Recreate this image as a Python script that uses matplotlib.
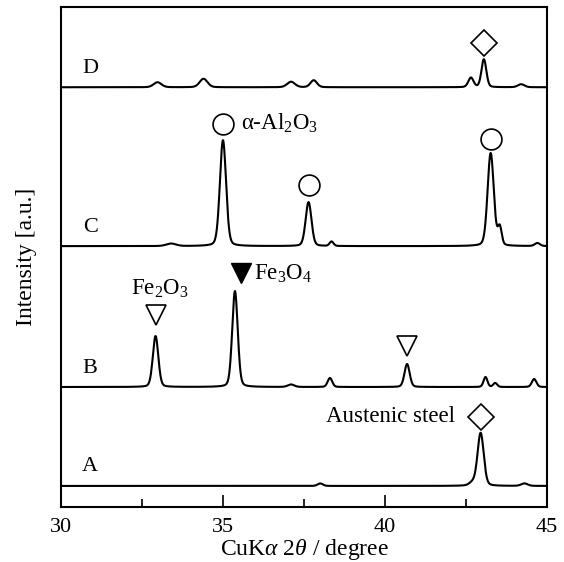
import matplotlib.pyplot as plt
import numpy as np

plt.rcParams['font.family'] = ['Liberation Serif', 'DejaVu Serif']
plt.rcParams['mathtext.fontset'] = 'custom'
plt.rcParams['mathtext.rm'] = 'Liberation Serif'
plt.rcParams['mathtext.it'] = 'Liberation Serif:italic'

# trace names and vertical offsets (arbitrary intensity units)
names = ['A', 'B', 'C', 'D']
offsets = [4.2, 24.0, 52.2, 84.0]

# peaks: position (deg), height, width (sigma, deg)
pos_A = [38.0, 42.7, 42.95, 44.3]
amp_A = [0.5, 0.6, 10.6, 0.5]
wid_A = [0.08, 0.10, 0.095, 0.10]

pos_B = [32.92, 35.37, 37.1, 38.3, 40.68, 43.1, 43.4, 44.6]
amp_B = [10.2, 19.2, 0.5, 1.8, 4.6, 2.0, 0.8, 1.6]
wid_B = [0.085, 0.085, 0.10, 0.07, 0.08, 0.06, 0.06, 0.07]

pos_C = [33.4, 35.0, 37.64, 38.35, 43.26, 43.54, 44.7]
amp_C = [0.5, 21.2, 8.8, 0.9, 18.6, 3.6, 0.6]
wid_C = [0.15, 0.095, 0.09, 0.06, 0.095, 0.06, 0.08]

pos_D = [32.98, 34.4, 37.1, 37.8, 42.65, 43.05, 44.2]
amp_D = [1.0, 1.7, 1.1, 1.4, 1.9, 5.6, 0.6]
wid_D = [0.12, 0.12, 0.12, 0.10, 0.08, 0.075, 0.10]

peaks = [(pos_A, amp_A, wid_A), (pos_B, amp_B, wid_B),
         (pos_C, amp_C, wid_C), (pos_D, amp_D, wid_D)]

x = np.linspace(30, 45, 1501)

fig = plt.figure(figsize=(5.64, 5.62), dpi=100)
ax = fig.add_axes([0.108, 0.098, 0.862, 0.889])

for name, off, (p, a, w) in zip(names, offsets, peaks):
    y = np.full_like(x, off)
    for pi, ai, wi in zip(p, a, w):
        # pseudo-Voigt-ish profile: gaussian core with a little lorentzian tail
        g = np.exp(-0.5 * ((x - pi) / wi) ** 2)
        l = 1.0 / (1.0 + ((x - pi) / (1.2 * wi)) ** 2)
        y += ai * (0.8 * g + 0.2 * l)
    ax.plot(x, y, color='black', lw=1.5)
    ax.text(30.9, off + 3.8, name, fontsize=16, ha='center', va='center')

# phase markers
mk = dict(color='black', mfc='white', mew=1.2, ls='none', clip_on=False)
ax.plot([35.0, 37.64, 43.26], [76.6, 64.4, 73.6], 'o', ms=15, **mk)
ax.plot([32.92, 40.68], [38.5, 32.3], 'v', ms=15, **mk)
ax.plot([35.56], [46.8], 'v', ms=15, color='black', ls='none')
ax.plot([42.95, 43.05], [18.0, 92.8], 'D', ms=13, **mk)

ax.text(35.55, 76.8, 'α-Al$_2$O$_3$', fontsize=16.5, va='center')
ax.text(35.95, 46.6, 'Fe$_3$O$_4$', fontsize=16.5, va='center')
ax.text(33.05, 43.6, 'Fe$_2$O$_3$', fontsize=16.5, va='center', ha='center')
ax.text(42.15, 18.0, 'Austenic steel', fontsize=16.5, va='center', ha='right')

ax.set_xlim(30, 45)
ax.set_ylim(0, 100)
ax.set_xticks([30, 35, 40, 45])
ax.set_xticks([32.5, 37.5, 42.5], minor=True)
ax.tick_params(axis='x', which='major', direction='in', length=9, width=1.2,
               labelsize=16, pad=8)
ax.tick_params(axis='x', which='minor', direction='in', length=6, width=1.2)
ax.set_yticks([])
for s in ax.spines.values():
    s.set_linewidth(1.5)

ax.set_xlabel('CuK$\\mathit{\\alpha}$ 2$\\mathit{\\theta}$ / degree', fontsize=17, labelpad=0)
ax.set_ylabel('Intensity [a.u.]', fontsize=17, labelpad=17)

fig.savefig('out.png', dpi=100)
